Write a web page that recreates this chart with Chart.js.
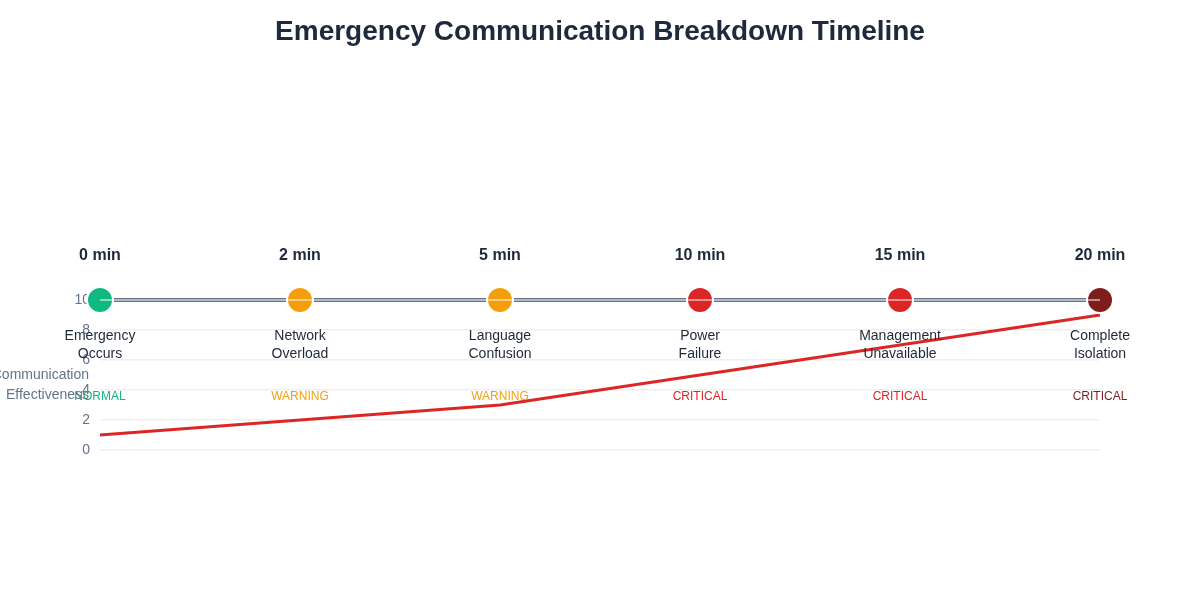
<!DOCTYPE html>
<html lang="en">
<head>
    <meta charset="UTF-8">
    <title>Emergency Communication Breakdown Timeline</title>
    <script src="https://cdn.jsdelivr.net/npm/chart.js"></script>
    <style>
        body {
            margin: 0;
            background: #ffffff;
        }

        .chart-box {
            width: 1200px;
            height: 600px;
        }
    </style>
</head>
<body>
    <div class="chart-box">
        <canvas id="timelineChart"></canvas>
    </div>

    <script>
        // Chart data
        const timeLabels = ['0 min', '2 min', '5 min', '10 min', '15 min', '20 min'];
        const eventLabels = [
            ['Emergency', 'Occurs'],
            ['Network', 'Overload'],
            ['Language', 'Confusion'],
            ['Power', 'Failure'],
            ['Management', 'Unavailable'],
            ['Complete', 'Isolation']
        ];
        const statusLabels = ['NORMAL', 'WARNING', 'WARNING', 'CRITICAL', 'CRITICAL', 'CRITICAL'];
        const timelineLevel = [10, 10, 10, 10, 10, 10];
        const effectiveness = [1, 2, 3, 5, 7, 9];
        const yTicks = [0, 2, 4, 6, 8, 10];

        // Styles
        const stageColors = ['#10b981', '#f59e0b', '#f59e0b', '#dc2626', '#dc2626', '#7f1d1d'];
        const fontFamily = "'Liberation Sans', Arial, Helvetica, sans-serif";

        // Draws the labels around each timeline stage and the horizontal y title
        const stageLabels = {
            id: 'stageLabels',
            afterDatasetsDraw(chart) {
                const ctx = chart.ctx;
                const x = chart.scales.x;
                const y = chart.scales.y;
                const lineY = y.getPixelForValue(timelineLevel[0]);

                ctx.save();
                ctx.textAlign = 'center';
                ctx.textBaseline = 'middle';

                timeLabels.forEach((label, i) => {
                    const px = x.getPixelForValue(i);

                    ctx.font = `bold 16px ${fontFamily}`;
                    ctx.fillStyle = '#1e293b';
                    ctx.fillText(label, px, lineY - 44);

                    ctx.font = `14px ${fontFamily}`;
                    ctx.fillStyle = '#1f2937';
                    eventLabels[i].forEach((line, j) => {
                        ctx.fillText(line, px, lineY + 36 + j * 18);
                    });

                    ctx.font = `12px ${fontFamily}`;
                    ctx.fillStyle = stageColors[i];
                    ctx.fillText(statusLabels[i], px, lineY + 97);
                });

                // y axis title, kept horizontal
                ctx.font = `14px ${fontFamily}`;
                ctx.fillStyle = '#64748b';
                ctx.textAlign = 'right';
                const titleX = chart.chartArea.left - 11;
                const titleY = y.getPixelForValue(5) + 10;
                ctx.fillText('Communication', titleX, titleY - 10);
                ctx.fillText('Effectiveness', titleX, titleY + 10);
                ctx.restore();
            }
        };

        const ctx = document.getElementById('timelineChart').getContext('2d');

        new Chart(ctx, {
            type: 'line',
            data: {
                labels: timeLabels,
                datasets: [{
                    label: 'Timeline highlight',
                    data: timelineLevel,
                    borderColor: 'rgba(255, 255, 255, 0.5)',
                    borderWidth: 2,
                    pointRadius: 0,
                    clip: false,
                    order: 0
                }, {
                    label: 'Timeline',
                    data: timelineLevel,
                    borderColor: '#64748b',
                    borderWidth: 4,
                    pointRadius: 13,
                    pointBackgroundColor: stageColors,
                    pointBorderColor: '#ffffff',
                    pointBorderWidth: 2,
                    clip: false,
                    order: 1
                }, {
                    label: 'Communication Effectiveness',
                    data: effectiveness,
                    borderColor: '#dc2626',
                    borderWidth: 3,
                    pointRadius: 0,
                    tension: 0,
                    clip: false,
                    order: 2
                }]
            },
            options: {
                responsive: true,
                maintainAspectRatio: false,
                animation: false,
                layout: {
                    padding: { top: 0, right: 0, bottom: 150, left: 0 }
                },
                plugins: {
                    legend: { display: false },
                    tooltip: { enabled: false },
                    title: {
                        display: true,
                        text: 'Emergency Communication Breakdown Timeline',
                        color: '#1e293b',
                        font: { family: fontFamily, size: 28, weight: 'bold' },
                        padding: { top: 15, bottom: 251.4 }
                    }
                },
                scales: {
                    x: {
                        type: 'category',
                        display: false,
                        offset: false
                    },
                    y: {
                        min: 0,
                        max: 10,
                        afterFit(scale) {
                            scale.width = 100;
                        },
                        afterBuildTicks(scale) {
                            scale.ticks = yTicks.map(v => ({ value: v }));
                        },
                        border: { display: false },
                        grid: {
                            color: '#efefef',
                            lineWidth: 1.5,
                            drawTicks: false
                        },
                        ticks: {
                            color: '#64748b',
                            padding: 10,
                            font: { family: fontFamily, size: 14 }
                        }
                    },
                    // empty right axis, only keeps the right margin
                    yRight: {
                        position: 'right',
                        min: 0,
                        max: 10,
                        afterFit(scale) {
                            scale.width = 100;
                        },
                        border: { display: false },
                        grid: { display: false },
                        ticks: { display: false }
                    }
                }
            },
            plugins: [stageLabels]
        });
    </script>
</body>
</html>
